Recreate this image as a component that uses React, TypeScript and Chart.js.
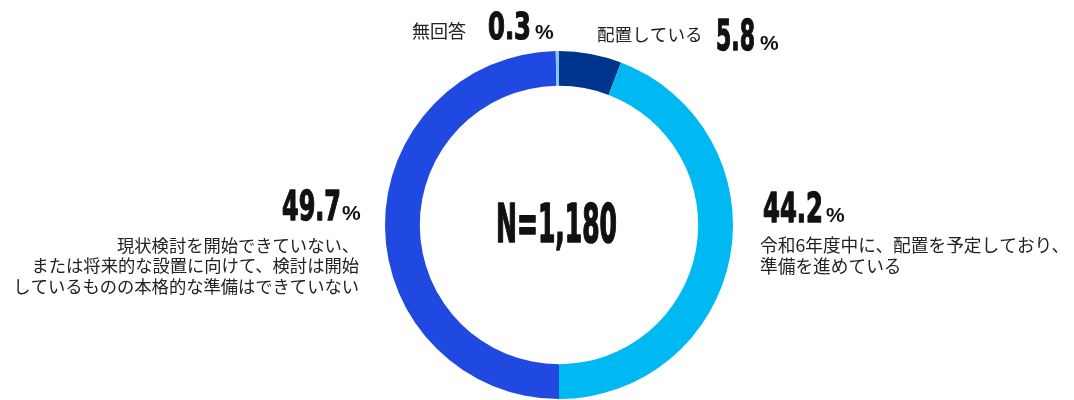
import React, { useEffect, useRef } from "react";
import { Chart, registerables } from "chart.js";

Chart.register(...registerables);

const categories = [
  "配置している",
  "令和6年度中に、配置を予定しており、準備を進めている",
  "現状検討を開始できていない、または将来的な設置に向けて、検討は開始しているものの本格的な準備はできていない",
  "無回答",
];
const values = [5.8, 44.2, 49.7, 0.3];
const valueLabels = ["5.8", "44.2", "49.7", "0.3"];
const labelLines = [
  ["配置している"],
  ["令和6年度中に、配置を予定しており、", "準備を進めている"],
  ["現状検討を開始できていない、", "または将来的な設置に向けて、検討は開始", "しているものの本格的な準備はできていない"],
  ["無回答"],
];
const centerText = "N=1,180";
const colors = ["#00358E", "#00B9F3", "#2049E2", "#86C5F2"];

const NUM_FONT = '"Liberation Sans Narrow", "DejaVu Sans Condensed", "Liberation Sans", sans-serif';
const JP_FONT = '"Noto Sans CJK JP", "Noto Sans", sans-serif';
const PCT_FONT = '"Liberation Sans", "DejaVu Sans", sans-serif';

function drawFit(
  ctx: CanvasRenderingContext2D,
  text: string,
  x: number,
  base: number,
  size: number,
  targetW: number,
  stroke: number
) {
  ctx.save();
  ctx.font = `bold ${size}px ${NUM_FONT}`;
  const mw = ctx.measureText(text).width;
  const sx = targetW / mw;
  ctx.translate(x, base);
  ctx.scale(sx, 1);
  ctx.textAlign = "left";
  ctx.textBaseline = "alphabetic";
  ctx.fillStyle = "#111";
  ctx.strokeStyle = "#111";
  ctx.lineWidth = stroke;
  ctx.lineJoin = "round";
  ctx.fillText(text, 0, 0);
  ctx.strokeText(text, 0, 0);
  ctx.restore();
  return targetW;
}

function drawPct(ctx: CanvasRenderingContext2D, x: number, base: number, size: number) {
  ctx.save();
  ctx.font = `bold ${size}px ${PCT_FONT}`;
  ctx.textAlign = "left";
  ctx.textBaseline = "alphabetic";
  ctx.fillStyle = "#111";
  ctx.fillText("%", x, base);
  ctx.restore();
}

function drawJP(ctx: CanvasRenderingContext2D, lines: string[], x: number, midY: number, lh: number, align: CanvasTextAlign, size: number) {
  ctx.save();
  ctx.font = `${size}px ${JP_FONT}`;
  ctx.textAlign = align;
  ctx.textBaseline = "middle";
  ctx.fillStyle = "#222";
  lines.forEach((l, i) => ctx.fillText(l, x, midY + i * lh));
  ctx.restore();
}

const labelPlugin = {
  id: "donutLabels",
  afterDraw(chart: any) {
    const ctx: CanvasRenderingContext2D = chart.ctx;
    // 無回答
    drawJP(ctx, labelLines[3], 412, 31, 20, "left", 18);
    drawFit(ctx, valueLabels[3], 488, 39, 37, 43, 1.2);
    drawPct(ctx, 535, 39, 21);
    // 配置している
    drawJP(ctx, labelLines[0], 597, 34, 20, "left", 17.6);
    drawFit(ctx, valueLabels[0], 716, 50, 43, 39, 1.3);
    drawPct(ctx, 760, 50, 21);
    // 44.2
    drawFit(ctx, valueLabels[1], 763, 222, 41, 60, 1.3);
    drawPct(ctx, 826, 222, 21);
    drawJP(ctx, labelLines[1], 760, 245, 21, "left", 17.7);
    // 49.7
    drawFit(ctx, valueLabels[2], 282, 220, 40, 59, 1.3);
    drawPct(ctx, 342, 220, 21);
    drawJP(ctx, labelLines[2], 359, 245, 20.5, "right", 17.3);
    // center
    drawFit(ctx, centerText, 496, 242, 53, 121, 1.6);
  },
};

export default function App() {
  const ref = useRef<HTMLCanvasElement>(null);
  useEffect(() => {
    document.body.style.margin = "0";
    const chart = new Chart(ref.current!, {
      type: "doughnut",
      data: {
        labels: categories,
        datasets: [
          {
            data: values,
            backgroundColor: colors,
            borderWidth: 0,
            hoverOffset: 0,
            offset: 0,
          },
        ],
      },
      options: {
        animation: false,
        responsive: false,
        cutout: "80%",
        layout: { padding: { top: 51, bottom: 1, left: 200, right: 156 } },
        plugins: { legend: { display: false }, tooltip: { enabled: false } },
        events: [],
      },
      plugins: [labelPlugin],
    });
    return () => chart.destroy();
  }, []);
  return (
    <div style={{ width: 1074, height: 400, background: "#fff" }}>
      <canvas ref={ref} width={1074} height={400} />
    </div>
  );
}
